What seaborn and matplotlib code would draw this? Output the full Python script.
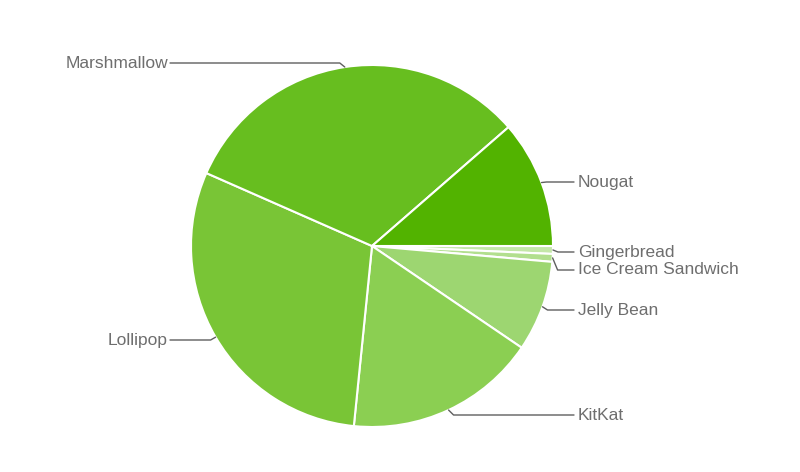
import numpy as np
import matplotlib
matplotlib.use("Agg")
import matplotlib.pyplot as plt
import seaborn as sns

# Android version share (%), clockwise from 3 o'clock
versions = ['Gingerbread', 'Ice Cream Sandwich', 'Jelly Bean', 'KitKat',
            'Lollipop', 'Marshmallow', 'Nougat']
share = [0.7, 0.7, 8.1, 17.1, 30.0, 32.0, 11.4]
colors = ['#c4e7a8', '#b2df8e', '#9dd671', '#8bcf52', '#79c536', '#67be1f', '#52b300']

W, H = 800, 472
sns.set_style("white")
plt.rcParams['font.family'] = ['Liberation Sans', 'DejaVu Sans']

fig = plt.figure(figsize=(W / 100, H / 100), dpi=100)
ax = fig.add_axes([0, 0, 1, 1])

cx, cy, r = 372, H - 246, 181
wedges, _ = ax.pie(share, colors=colors, startangle=0, counterclock=False,
                   center=(cx, cy), radius=r, frame=False,
                   wedgeprops=dict(edgecolor='white', linewidth=1.5))

# pie() changes the limits, so set them afterwards
ax.set_xlim(0, W)
ax.set_ylim(0, H)
ax.set_aspect('equal')
ax.axis('off')

# label placement (pixel y from top, side)
label_y = {'Gingerbread': 252, 'Ice Cream Sandwich': 270, 'Jelly Bean': 310,
           'KitKat': 415, 'Lollipop': 340, 'Marshmallow': 63, 'Nougat': 182}
left_x, right_x = 170, 574

for w, name in zip(wedges, versions):
    mid = np.deg2rad((w.theta1 + w.theta2) / 2)
    ex, ey = cx + r * np.cos(mid), cy + r * np.sin(mid)
    ly = H - label_y[name]
    if np.cos(mid) >= 0:
        elbow = ex + 5
        ax.plot([ex, elbow, right_x], [ey, ly, ly], color='#5f5f5f', lw=1)
        ax.text(right_x + 4, ly, name, ha='left', va='center',
                fontsize=12.5, color='#6e6e6e')
    else:
        elbow = ex - 5
        ax.plot([ex, elbow, left_x], [ey, ly, ly], color='#5f5f5f', lw=1)
        ax.text(left_x - 2, ly, name, ha='right', va='center',
                fontsize=12.5, color='#6e6e6e')

fig.savefig('out.png', dpi=100)
